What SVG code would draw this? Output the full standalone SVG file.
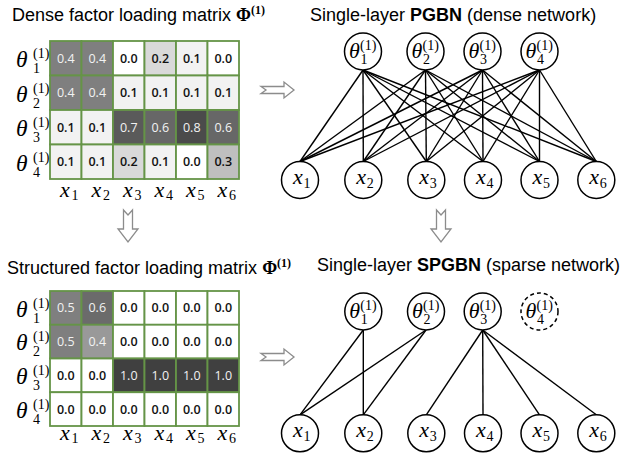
<svg xmlns="http://www.w3.org/2000/svg" width="639" height="453" viewBox="0 0 639 453">
<style>
.ttl{font-family:"Liberation Sans",Arial,sans-serif;font-size:18px;fill:#000}
.phi{font-family:"Liberation Serif",serif;font-weight:bold}
.m{font-family:"Liberation Serif",serif;font-style:italic;font-size:22px;fill:#000}
.mt{font-size:23.5px}
.n{font-family:"Liberation Serif",serif;font-size:14px;fill:#000}
.c rect{stroke:#659447;stroke-width:1.8}
.v{font-family:"Open Sans","Liberation Sans",sans-serif;font-size:12.5px;text-anchor:middle}
.d{fill:#111;font-weight:600}
.w{fill:#f2f2f2}
.arr{fill:#fff;stroke:#8c8c8c;stroke-width:1.3}
.nd{fill:#fff;stroke:#000;stroke-width:1.5}
.dash{stroke-dasharray:4 3}
.edges line{stroke:#000;stroke-width:1.4}
</style>
<rect width="639" height="453" fill="#fff"/>

<!-- Titles -->
<text class="ttl" x="12" y="21">Dense factor loading matrix <tspan class="phi">Φ</tspan><tspan class="phi" font-size="12" dy="-7">(1)</tspan></text>
<text class="ttl" x="310" y="21">Single-layer <tspan font-weight="bold">PGBN</tspan> (dense network)</text>
<text class="ttl" x="7" y="274">Structured factor loading matrix <tspan class="phi">Φ</tspan><tspan class="phi" font-size="12" dy="-7">(1)</tspan></text>
<text class="ttl" x="317" y="271">Single-layer <tspan font-weight="bold">SPGBN</tspan> (sparse network)</text>

<!-- Dense matrix -->
<g id="dense-matrix">
<g class="c">
<rect x="50" y="41" width="31.5" height="34.5" fill="#7f7f7f"/><rect x="81.5" y="41" width="31.5" height="34.5" fill="#7f7f7f"/><rect x="113" y="41" width="31.5" height="34.5" fill="#fff"/><rect x="144.5" y="41" width="31.5" height="34.5" fill="#d9d9d9"/><rect x="176" y="41" width="31.5" height="34.5" fill="#f2f2f2"/><rect x="207.5" y="41" width="31.5" height="34.5" fill="#fff"/>
<rect x="50" y="75.5" width="31.5" height="34.5" fill="#7f7f7f"/><rect x="81.5" y="75.5" width="31.5" height="34.5" fill="#7f7f7f"/><rect x="113" y="75.5" width="31.5" height="34.5" fill="#f2f2f2"/><rect x="144.5" y="75.5" width="31.5" height="34.5" fill="#f2f2f2"/><rect x="176" y="75.5" width="31.5" height="34.5" fill="#f2f2f2"/><rect x="207.5" y="75.5" width="31.5" height="34.5" fill="#f2f2f2"/>
<rect x="50" y="110" width="31.5" height="34.5" fill="#f2f2f2"/><rect x="81.5" y="110" width="31.5" height="34.5" fill="#f2f2f2"/><rect x="113" y="110" width="31.5" height="34.5" fill="#5a5a5a"/><rect x="144.5" y="110" width="31.5" height="34.5" fill="#676767"/><rect x="176" y="110" width="31.5" height="34.5" fill="#4b4b4b"/><rect x="207.5" y="110" width="31.5" height="34.5" fill="#676767"/>
<rect x="50" y="144.5" width="31.5" height="34.5" fill="#f2f2f2"/><rect x="81.5" y="144.5" width="31.5" height="34.5" fill="#f2f2f2"/><rect x="113" y="144.5" width="31.5" height="34.5" fill="#d9d9d9"/><rect x="144.5" y="144.5" width="31.5" height="34.5" fill="#f2f2f2"/><rect x="176" y="144.5" width="31.5" height="34.5" fill="#fff"/><rect x="207.5" y="144.5" width="31.5" height="34.5" fill="#bfbfbf"/>
</g>
<g class="v">
<text class="w" x="65.75" y="62.75">0.4</text><text class="w" x="97.25" y="62.75">0.4</text><text class="d" x="128.75" y="62.75">0.0</text><text class="d" x="160.25" y="62.75">0.2</text><text class="d" x="191.75" y="62.75">0.1</text><text class="d" x="223.25" y="62.75">0.0</text>
<text class="w" x="65.75" y="97.25">0.4</text><text class="w" x="97.25" y="97.25">0.4</text><text class="d" x="128.75" y="97.25">0.1</text><text class="d" x="160.25" y="97.25">0.1</text><text class="d" x="191.75" y="97.25">0.1</text><text class="d" x="223.25" y="97.25">0.1</text>
<text class="d" x="65.75" y="131.75">0.1</text><text class="d" x="97.25" y="131.75">0.1</text><text class="w" x="128.75" y="131.75">0.7</text><text class="w" x="160.25" y="131.75">0.6</text><text class="w" x="191.75" y="131.75">0.8</text><text class="w" x="223.25" y="131.75">0.6</text>
<text class="d" x="65.75" y="166.25">0.1</text><text class="d" x="97.25" y="166.25">0.1</text><text class="d" x="128.75" y="166.25">0.2</text><text class="d" x="160.25" y="166.25">0.1</text><text class="d" x="191.75" y="166.25">0.0</text><text class="d" x="223.25" y="166.25">0.3</text>
</g>
<g>
<text class="m mt" x="16" y="67">θ</text><text class="n" x="33" y="58">(1)</text><text class="n" x="33" y="73">1</text>
<text class="m mt" x="16" y="101.5">θ</text><text class="n" x="33" y="92.5">(1)</text><text class="n" x="33" y="107.5">2</text>
<text class="m mt" x="16" y="136">θ</text><text class="n" x="33" y="127">(1)</text><text class="n" x="33" y="142">3</text>
<text class="m mt" x="16" y="170.5">θ</text><text class="n" x="33" y="161.5">(1)</text><text class="n" x="33" y="176.5">4</text>
</g>
<g>
<text class="m" x="60" y="197">x</text><text class="n" x="71.5" y="200">1</text>
<text class="m" x="91.5" y="197">x</text><text class="n" x="103" y="200">2</text>
<text class="m" x="123" y="197">x</text><text class="n" x="134.5" y="200">3</text>
<text class="m" x="154.5" y="197">x</text><text class="n" x="166" y="200">4</text>
<text class="m" x="186" y="197">x</text><text class="n" x="197.5" y="200">5</text>
<text class="m" x="217.5" y="197">x</text><text class="n" x="229" y="200">6</text>
</g>
</g>

<!-- Structured matrix -->
<g id="structured-matrix">
<g class="c">
<rect x="50" y="291" width="31.5" height="33.75" fill="#7f7f7f"/><rect x="81.5" y="291" width="31.5" height="33.75" fill="#6b6b6b"/><rect x="113" y="291" width="31.5" height="33.75" fill="#fff"/><rect x="144.5" y="291" width="31.5" height="33.75" fill="#fff"/><rect x="176" y="291" width="31.5" height="33.75" fill="#fff"/><rect x="207.5" y="291" width="31.5" height="33.75" fill="#fff"/>
<rect x="50" y="324.75" width="31.5" height="33.75" fill="#7f7f7f"/><rect x="81.5" y="324.75" width="31.5" height="33.75" fill="#999"/><rect x="113" y="324.75" width="31.5" height="33.75" fill="#fff"/><rect x="144.5" y="324.75" width="31.5" height="33.75" fill="#fff"/><rect x="176" y="324.75" width="31.5" height="33.75" fill="#fff"/><rect x="207.5" y="324.75" width="31.5" height="33.75" fill="#fff"/>
<rect x="50" y="358.5" width="31.5" height="33.75" fill="#fff"/><rect x="81.5" y="358.5" width="31.5" height="33.75" fill="#fff"/><rect x="113" y="358.5" width="31.5" height="33.75" fill="#404040"/><rect x="144.5" y="358.5" width="31.5" height="33.75" fill="#404040"/><rect x="176" y="358.5" width="31.5" height="33.75" fill="#404040"/><rect x="207.5" y="358.5" width="31.5" height="33.75" fill="#404040"/>
<rect x="50" y="392.25" width="31.5" height="33.75" fill="#fff"/><rect x="81.5" y="392.25" width="31.5" height="33.75" fill="#fff"/><rect x="113" y="392.25" width="31.5" height="33.75" fill="#fff"/><rect x="144.5" y="392.25" width="31.5" height="33.75" fill="#fff"/><rect x="176" y="392.25" width="31.5" height="33.75" fill="#fff"/><rect x="207.5" y="392.25" width="31.5" height="33.75" fill="#fff"/>
</g>
<g class="v">
<text class="w" x="65.75" y="312.4">0.5</text><text class="w" x="97.25" y="312.4">0.6</text><text class="d" x="128.75" y="312.4">0.0</text><text class="d" x="160.25" y="312.4">0.0</text><text class="d" x="191.75" y="312.4">0.0</text><text class="d" x="223.25" y="312.4">0.0</text>
<text class="w" x="65.75" y="346.1">0.5</text><text class="w" x="97.25" y="346.1">0.4</text><text class="d" x="128.75" y="346.1">0.0</text><text class="d" x="160.25" y="346.1">0.0</text><text class="d" x="191.75" y="346.1">0.0</text><text class="d" x="223.25" y="346.1">0.0</text>
<text class="d" x="65.75" y="379.9">0.0</text><text class="d" x="97.25" y="379.9">0.0</text><text class="w" x="128.75" y="379.9">1.0</text><text class="w" x="160.25" y="379.9">1.0</text><text class="w" x="191.75" y="379.9">1.0</text><text class="w" x="223.25" y="379.9">1.0</text>
<text class="d" x="65.75" y="413.6">0.0</text><text class="d" x="97.25" y="413.6">0.0</text><text class="d" x="128.75" y="413.6">0.0</text><text class="d" x="160.25" y="413.6">0.0</text><text class="d" x="191.75" y="413.6">0.0</text><text class="d" x="223.25" y="413.6">0.0</text>
</g>
<g>
<text class="m mt" x="16" y="316.5">θ</text><text class="n" x="33" y="307.5">(1)</text><text class="n" x="33" y="322.5">1</text>
<text class="m mt" x="16" y="350.3">θ</text><text class="n" x="33" y="341.3">(1)</text><text class="n" x="33" y="356.3">2</text>
<text class="m mt" x="16" y="384">θ</text><text class="n" x="33" y="375">(1)</text><text class="n" x="33" y="390">3</text>
<text class="m mt" x="16" y="417.8">θ</text><text class="n" x="33" y="408.8">(1)</text><text class="n" x="33" y="423.8">4</text>
</g>
<g>
<text class="m" x="60" y="440">x</text><text class="n" x="71.5" y="443">1</text>
<text class="m" x="91.5" y="440">x</text><text class="n" x="103" y="443">2</text>
<text class="m" x="123" y="440">x</text><text class="n" x="134.5" y="443">3</text>
<text class="m" x="154.5" y="440">x</text><text class="n" x="166" y="443">4</text>
<text class="m" x="186" y="440">x</text><text class="n" x="197.5" y="443">5</text>
<text class="m" x="217.5" y="440">x</text><text class="n" x="229" y="443">6</text>
</g>
</g>

<!-- Arrows -->
<g id="arrows">
<polygon class="arr" points="261,86.5 284,86.5 284,82 294,90 284,98 284,93.5 261,93.5 266,90"/>
<polygon class="arr" points="261,353.5 284,353.5 284,349 294,357 284,365 284,360.5 261,360.5 266,357"/>
<polygon class="arr" points="123.5,210 128,215 132.5,210 132.5,229 138,229 128,242 118,229 123.5,229"/>
<polygon class="arr" points="436.5,210 441,215 445.5,210 445.5,229 451,229 441,242 431,229 436.5,229"/>
</g>

<!-- Connectors -->
<g class="edges" id="connectors">
<line x1="363" y1="70" x2="300" y2="161.5"/><line x1="363" y1="70" x2="363.3" y2="161.5"/><line x1="363" y1="70" x2="426.3" y2="161.5"/><line x1="363" y1="70" x2="483" y2="161.5"/><line x1="363" y1="70" x2="539.5" y2="161.5"/><line x1="363" y1="70" x2="596.3" y2="161.5"/>
<line x1="425.5" y1="70" x2="300" y2="161.5"/><line x1="425.5" y1="70" x2="363.3" y2="161.5"/><line x1="425.5" y1="70" x2="426.3" y2="161.5"/><line x1="425.5" y1="70" x2="483" y2="161.5"/><line x1="425.5" y1="70" x2="539.5" y2="161.5"/><line x1="425.5" y1="70" x2="596.3" y2="161.5"/>
<line x1="482.5" y1="70" x2="300" y2="161.5"/><line x1="482.5" y1="70" x2="363.3" y2="161.5"/><line x1="482.5" y1="70" x2="426.3" y2="161.5"/><line x1="482.5" y1="70" x2="483" y2="161.5"/><line x1="482.5" y1="70" x2="539.5" y2="161.5"/><line x1="482.5" y1="70" x2="596.3" y2="161.5"/>
<line x1="539.5" y1="70" x2="300" y2="161.5"/><line x1="539.5" y1="70" x2="363.3" y2="161.5"/><line x1="539.5" y1="70" x2="426.3" y2="161.5"/><line x1="539.5" y1="70" x2="483" y2="161.5"/><line x1="539.5" y1="70" x2="539.5" y2="161.5"/><line x1="539.5" y1="70" x2="596.3" y2="161.5"/>
<line x1="363.3" y1="330" x2="300" y2="414.8"/><line x1="363.3" y1="330" x2="363.3" y2="414.8"/>
<line x1="426" y1="330" x2="300" y2="414.8"/><line x1="426" y1="330" x2="363.3" y2="414.8"/>
<line x1="482.7" y1="330" x2="426.3" y2="414.8"/><line x1="482.7" y1="330" x2="483" y2="414.8"/><line x1="482.7" y1="330" x2="539.5" y2="414.8"/><line x1="482.7" y1="330" x2="596.3" y2="414.8"/>
</g>

<!-- Top network nodes -->
<g id="pgbn-theta1"><circle class="nd" cx="363" cy="51.5" r="18.5"/><text class="m" x="349" y="58">θ</text><text class="n" x="360" y="49.5">(1)</text><text class="n" x="360.5" y="64">1</text></g>
<g id="pgbn-theta2"><circle class="nd" cx="425.5" cy="51.5" r="18.5"/><text class="m" x="411.5" y="58">θ</text><text class="n" x="422.5" y="49.5">(1)</text><text class="n" x="423" y="64">2</text></g>
<g id="pgbn-theta3"><circle class="nd" cx="482.5" cy="51.5" r="18.5"/><text class="m" x="468.5" y="58">θ</text><text class="n" x="479.5" y="49.5">(1)</text><text class="n" x="480" y="64">3</text></g>
<g id="pgbn-theta4"><circle class="nd" cx="539.5" cy="51.5" r="18.5"/><text class="m" x="525.5" y="58">θ</text><text class="n" x="536.5" y="49.5">(1)</text><text class="n" x="537" y="64">4</text></g>
<g id="pgbn-x1"><circle class="nd" cx="300" cy="180" r="18.5"/><text class="m" x="293" y="184">x</text><text class="n" x="303.5" y="188">1</text></g>
<g id="pgbn-x2"><circle class="nd" cx="363.3" cy="180" r="18.5"/><text class="m" x="356.3" y="184">x</text><text class="n" x="366.8" y="188">2</text></g>
<g id="pgbn-x3"><circle class="nd" cx="426.3" cy="180" r="18.5"/><text class="m" x="419.3" y="184">x</text><text class="n" x="429.8" y="188">3</text></g>
<g id="pgbn-x4"><circle class="nd" cx="483" cy="180" r="18.5"/><text class="m" x="476" y="184">x</text><text class="n" x="486.5" y="188">4</text></g>
<g id="pgbn-x5"><circle class="nd" cx="539.5" cy="180" r="18.5"/><text class="m" x="532.5" y="184">x</text><text class="n" x="543" y="188">5</text></g>
<g id="pgbn-x6"><circle class="nd" cx="596.3" cy="180" r="18.5"/><text class="m" x="589.3" y="184">x</text><text class="n" x="599.8" y="188">6</text></g>

<!-- Bottom network nodes -->
<g id="spgbn-theta1"><circle class="nd" cx="363.3" cy="311.5" r="18.5"/><text class="m" x="349.3" y="318">θ</text><text class="n" x="360.3" y="309.5">(1)</text><text class="n" x="360.8" y="324">1</text></g>
<g id="spgbn-theta2"><circle class="nd" cx="426" cy="311.5" r="18.5"/><text class="m" x="412" y="318">θ</text><text class="n" x="423" y="309.5">(1)</text><text class="n" x="423.5" y="324">2</text></g>
<g id="spgbn-theta3"><circle class="nd" cx="482.7" cy="311.5" r="18.5"/><text class="m" x="468.7" y="318">θ</text><text class="n" x="479.7" y="309.5">(1)</text><text class="n" x="480.2" y="324">3</text></g>
<g id="spgbn-theta4"><circle class="nd dash" cx="539.5" cy="311.5" r="18.5"/><text class="m" x="525.5" y="318">θ</text><text class="n" x="536.5" y="309.5">(1)</text><text class="n" x="537" y="324">4</text></g>
<g id="spgbn-x1"><circle class="nd" cx="300" cy="433.3" r="18.5"/><text class="m" x="293" y="437.3">x</text><text class="n" x="303.5" y="441.3">1</text></g>
<g id="spgbn-x2"><circle class="nd" cx="363.3" cy="433.3" r="18.5"/><text class="m" x="356.3" y="437.3">x</text><text class="n" x="366.8" y="441.3">2</text></g>
<g id="spgbn-x3"><circle class="nd" cx="426.3" cy="433.3" r="18.5"/><text class="m" x="419.3" y="437.3">x</text><text class="n" x="429.8" y="441.3">3</text></g>
<g id="spgbn-x4"><circle class="nd" cx="483" cy="433.3" r="18.5"/><text class="m" x="476" y="437.3">x</text><text class="n" x="486.5" y="441.3">4</text></g>
<g id="spgbn-x5"><circle class="nd" cx="539.5" cy="433.3" r="18.5"/><text class="m" x="532.5" y="437.3">x</text><text class="n" x="543" y="441.3">5</text></g>
<g id="spgbn-x6"><circle class="nd" cx="596.3" cy="433.3" r="18.5"/><text class="m" x="589.3" y="437.3">x</text><text class="n" x="599.8" y="441.3">6</text></g>
</svg>
